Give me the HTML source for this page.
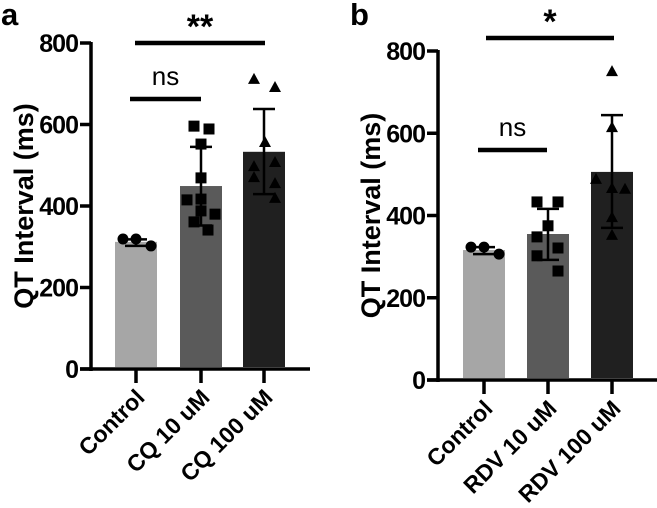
<!DOCTYPE html>
<html><head><meta charset="utf-8"><style>
html,body{margin:0;padding:0;background:#fff}
svg{display:block}
text{font-family:"Liberation Sans",Arial,sans-serif;fill:#000}
</style></head><body>
<svg id="chart" width="657" height="508" viewBox="0 0 657 508" xmlns="http://www.w3.org/2000/svg"></svg>
<script>
const categoriesA = ["Control", "CQ 10 uM", "CQ 100 uM"];
const meansA = [312, 449, 533];
const errUpA = [318, 545, 638];
const errLoA = [302, 352, 429];
const pointsCtrlA = [319, 319, 302];
const pointsCQ10 = [596, 589, 552, 469, 415, 417, 388, 380, 361, 341];
const pointsCQ100 = [712, 692, 557, 498, 508, 471, 456, 420];
const categoriesB = ["Control", "RDV 10 uM", "RDV 100 uM"];
const meansB = [316, 355, 506];
const errUpB = [323, 416, 644];
const errLoB = [306, 292, 370];
const pointsCtrlB = [323, 323, 306];
const pointsRDV10 = [433, 433, 375, 348, 321, 302, 265];
const pointsRDV100 = [751, 615, 489, 467, 465, 396, 353];
const yTicks = [0, 200, 400, 600, 800];

const NS = "http://www.w3.org/2000/svg";
const svg = document.getElementById("chart");
function mk(tag, attrs, parent) {
  const e = document.createElementNS(NS, tag);
  for (const k in attrs) e.setAttribute(k, attrs[k]);
  (parent || svg).appendChild(e);
  return e;
}
const colors = ["#a6a6a6", "#5a5a5a", "#202020"];
const jitter = {
  ctrl: [-13, 0, 15],
  sq10: [-7, 8, 0, 0, -14, 0, 0, 14, -7, 7],
  tri100: [-10, 11, 1, -10, 11, -10, 11, 11],
  sqB: [-11, 10, 0, -11, 10, -11, 10],
  triB: [0, 0, -16, 0, 13, 0, 0]
};

function panel(cfg) {
  const g = mk("g", {});
  
  
  const y = v => cfg.y0 - (v / 800) * (cfg.y0 - cfg.y800);
  cfg.cats.forEach((c, i) => {
    const cx = cfg.centers[i];
    const b = mk("rect", {x: cx - 21, y: y(cfg.means[i]), width: 42, height: cfg.y0 - y(cfg.means[i]) - 2, fill: colors[i]}, g);
    
    
  });
  const ax = mk("line", {x1: cfg.ax, y1: cfg.y800 - 1, x2: cfg.ax, y2: cfg.y0 + 2, stroke: "#000", "stroke-width": 3.5}, g);
  
  
  const bx = mk("line", {x1: cfg.ax - 11, y1: cfg.y0, x2: cfg.xEnd, y2: cfg.y0, stroke: "#000", "stroke-width": 3.5}, g);
  
  
  yTicks.forEach(t => {
    mk("line", {x1: cfg.ax - 11, y1: y(t), x2: cfg.ax, y2: y(t), stroke: "#000", "stroke-width": 3.5}, g);
    const tl = mk("text", {x: cfg.ax - 13, y: y(t) + 9, "text-anchor": "end", style: "font-size:25px;font-weight:bold;letter-spacing:-1px"}, g);
    tl.textContent = t;
    
    
  });
  const yt = mk("text", {x: 0, y: 0, "text-anchor": "middle", style: "font-size:27px;font-weight:bold", transform: `translate(${cfg.titleX},${(cfg.y0 + cfg.y800) / 2}) rotate(-90)`}, g);
  yt.textContent = "QT Interval (ms)";
  
  
  cfg.cats.forEach((c, i) => {
    const cx = cfg.centers[i];
    mk("line", {x1: cx, y1: cfg.y0, x2: cx, y2: cfg.y0 + 14, stroke: "#000", "stroke-width": 3.5}, g);
    const xl = mk("text", {x: 0, y: 0, "text-anchor": "end", style: "font-size:23px;font-weight:bold", transform: `translate(${cx + 10},${cfg.y0 + 30}) rotate(-45)`}, g);
    xl.textContent = c;
    
    
  });
  cfg.points.forEach((pts, i) => {
    const cx = cfg.centers[i];
    pts.forEach((v, j) => {
      const px = cx + cfg.jit[i][j], py = y(v);
      let m;
      if (i === 0) m = mk("circle", {cx: px, cy: py, r: 5.5, fill: "#000"}, g);
      else if (i === 1) m = mk("rect", {x: px - 5.5, y: py - 5.5, width: 11, height: 11, fill: "#000"}, g);
      else m = mk("polygon", {points: `${px},${py - 6} ${px - 6},${py + 5} ${px + 6},${py + 5}`, fill: "#000"}, g);
      
      
    });
  });
  cfg.cats.forEach((c, i) => {
    const cx = cfg.centers[i];
    const e = mk("g", {stroke: "#000", "stroke-width": 2.5}, g);
    
    
    mk("line", {x1: cx, y1: y(cfg.up[i]), x2: cx, y2: y(cfg.lo[i])}, e);
    mk("line", {x1: cx - 11, y1: y(cfg.up[i]), x2: cx + 11, y2: y(cfg.up[i])}, e);
    mk("line", {x1: cx - 11, y1: y(cfg.lo[i]), x2: cx + 11, y2: y(cfg.lo[i])}, e);
  });
  cfg.sig.forEach(s => {
    const l = mk("line", {x1: s.x1, y1: s.y, x2: s.x2, y2: s.y, stroke: "#000", "stroke-width": 4.5}, g);
    
    
    const t = mk("text", {x: (s.x1 + s.x2) / 2, y: s.ty, "text-anchor": "middle", style: `font-size:${s.fs}px;font-weight:${s.w}`}, g);
    t.textContent = s.label;
    
    
  });
  const pl = mk("text", {x: cfg.labelX, y: 25, style: "font-size:31px;font-weight:bold"}, g);
  pl.textContent = cfg.letter;
  
  
}

panel({name: "panel-a", letter: "a", labelX: 1, ax: 91, xEnd: 310, y0: 369, y800: 43, titleX: 33,
  centers: [136, 201, 264], cats: categoriesA, means: meansA, up: errUpA, lo: errLoA,
  points: [pointsCtrlA, pointsCQ10, pointsCQ100], jit: [jitter.ctrl, jitter.sq10, jitter.tri100],
  sig: [{x1: 130, x2: 201, y: 99, label: "ns", ty: 85, fs: 26, w: "normal"},
        {x1: 135, x2: 265, y: 43, label: "**", ty: 38, fs: 34, w: "bold"}]});
panel({name: "panel-b", letter: "b", labelX: 350, ax: 438, xEnd: 657, y0: 380, y800: 51, titleX: 380,
  centers: [484, 548, 612], cats: categoriesB, means: meansB, up: errUpB, lo: errLoB,
  points: [pointsCtrlB, pointsRDV10, pointsRDV100], jit: [jitter.ctrl, jitter.sqB, jitter.triB],
  sig: [{x1: 478, x2: 547, y: 150, label: "ns", ty: 136, fs: 26, w: "normal"},
        {x1: 486, x2: 614, y: 38, label: "*", ty: 33, fs: 34, w: "bold"}]});
</script>
</body></html>
